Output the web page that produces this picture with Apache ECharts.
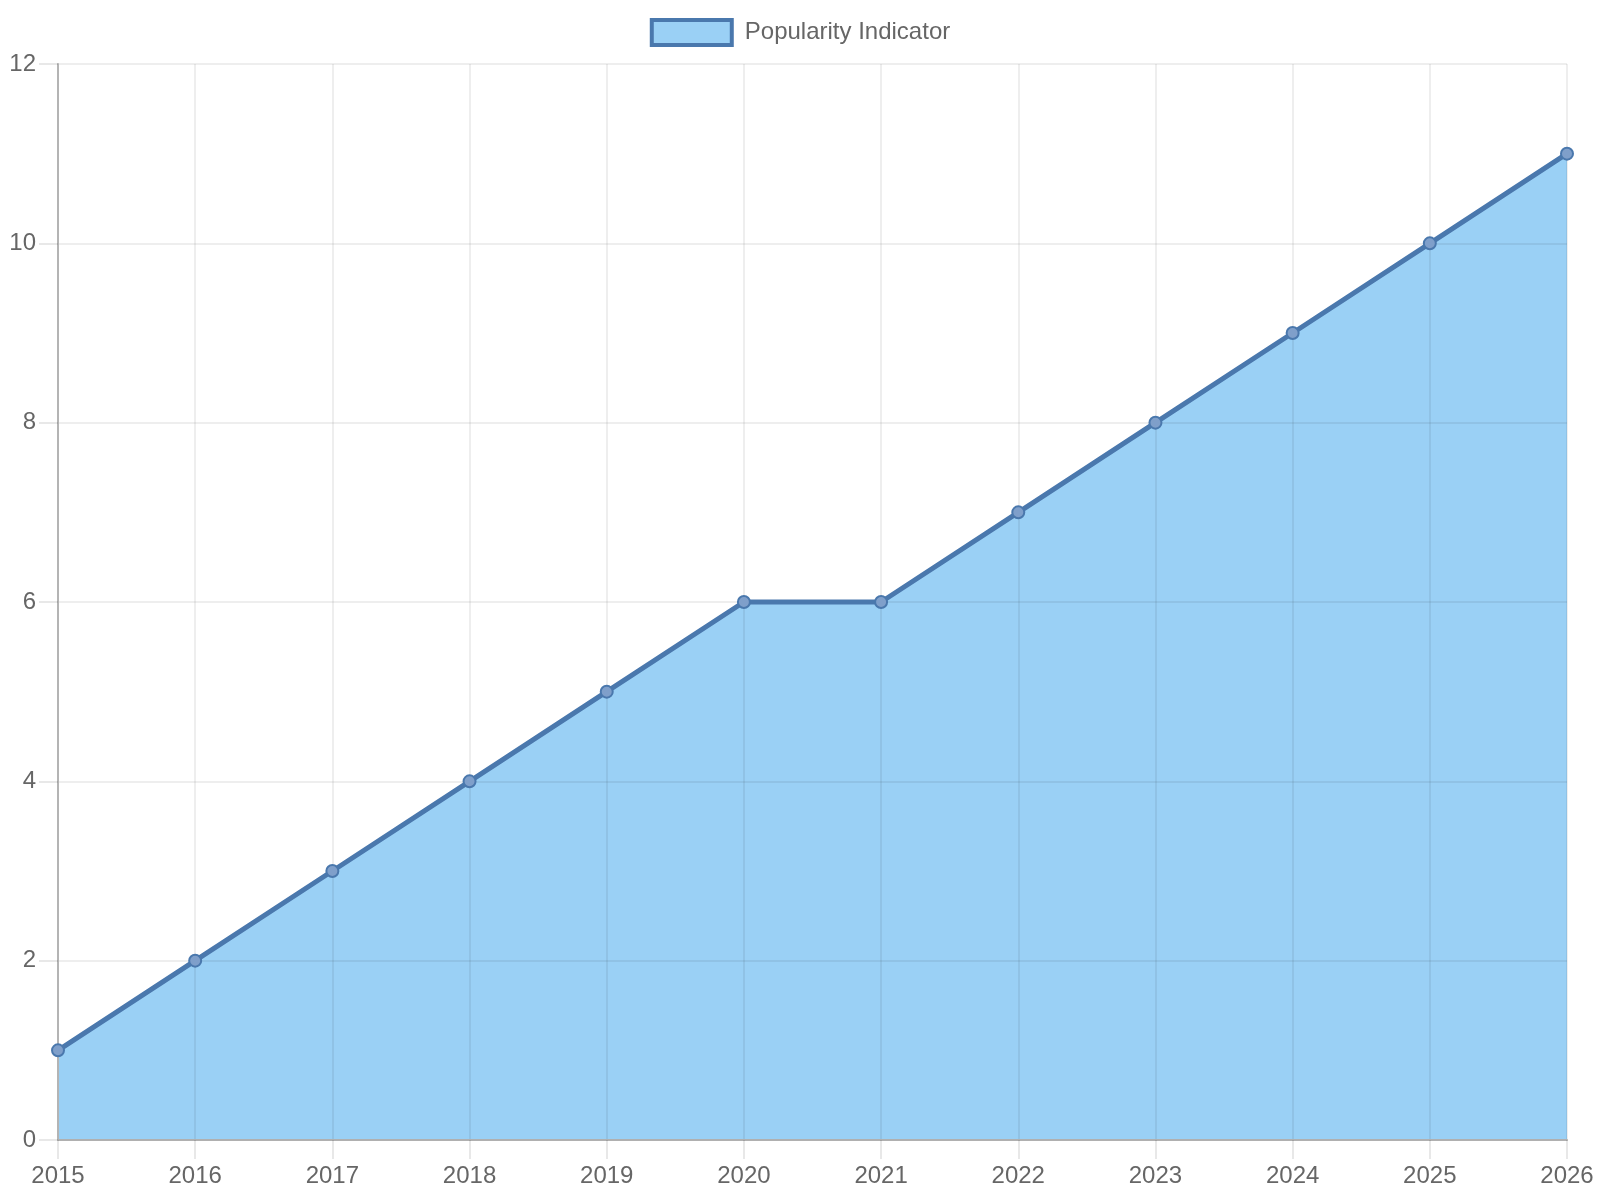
<!DOCTYPE html>
<html>
<head>
<meta charset="utf-8">
<script src="https://cdn.jsdelivr.net/npm/echarts@6/dist/echarts.min.js"></script>
<style>
  html, body { margin: 0; padding: 0; background: #fff; }
  #main { width: 1600px; height: 1200px; }
</style>
</head>
<body>
<div id="main"></div>
<script>
// years on the x axis
const years = ['2015', '2016', '2017', '2018', '2019', '2020', '2021', '2022', '2023', '2024', '2025', '2026']
// popularity values
const popularity = [1, 2, 3, 4, 5, 6, 6, 7, 8, 9, 10, 11]
const seriesName = 'Popularity Indicator'

const chart = echarts.init(document.getElementById('main'))

const lineColor = '#4a78ad'
const fillColor = 'rgba(54, 162, 235, 0.5)'
const gridColor = 'rgba(0, 0, 0, 0.09)'
const textColor = '#666'
const font = 'Liberation Sans, Arial, sans-serif'

chart.setOption({
  animation: false,
  textStyle: { fontFamily: font },
  legend: {
    data: [seriesName],
    top: 13,
    left: 'center',
    icon: 'rect',
    itemWidth: 80,
    itemHeight: 25,
    itemGap: 10,
    itemStyle: {
      color: '#9ad0f5',
      borderColor: lineColor,
      borderWidth: 4
    },
    textStyle: { color: textColor, fontSize: 24, fontFamily: font, padding: [0, 0, 0, 8] }
  },
  grid: {
    left: 58,
    right: 33,
    top: 64,
    bottom: 60,
    containLabel: false
  },
  xAxis: {
    type: 'category',
    data: years,
    boundaryGap: false,
    z: 3,
    axisLine: { lineStyle: { color: '#b0b0b0', width: 2 } },
    axisTick: { show: true, length: 19, lineStyle: { color: gridColor, width: 2 } },
    axisLabel: { color: textColor, fontSize: 24, margin: 24, fontFamily: font },
    splitLine: { show: true, lineStyle: { color: gridColor, width: 1.5 } }
  },
  yAxis: {
    type: 'value',
    min: 0,
    max: 12,
    interval: 2,
    z: 3,
    axisLine: { show: true, lineStyle: { color: '#b4b4b4', width: 2 } },
    axisTick: { show: true, length: 19, lineStyle: { color: gridColor, width: 2 } },
    axisLabel: { color: textColor, fontSize: 24, margin: 22, fontFamily: font },
    splitLine: { show: true, lineStyle: { color: gridColor, width: 1.5 } }
  },
  series: [
    {
      // filled area, under the grid lines
      name: seriesName,
      type: 'line',
      data: popularity,
      symbol: 'none',
      lineStyle: { width: 0 },
      itemStyle: { color: '#9ad0f5' },
      areaStyle: { color: fillColor, opacity: 1 },
      z: 1
    },
    {
      // line and points, above the grid lines
      name: seriesName,
      type: 'line',
      data: popularity,
      symbol: 'circle',
      symbolSize: 12,
      showAllSymbol: true,
      lineStyle: { color: lineColor, width: 5 },
      itemStyle: {
        color: '#7f9fca',
        borderColor: lineColor,
        borderWidth: 2
      },
      z: 5
    }
  ]
})
</script>
</body>
</html>
